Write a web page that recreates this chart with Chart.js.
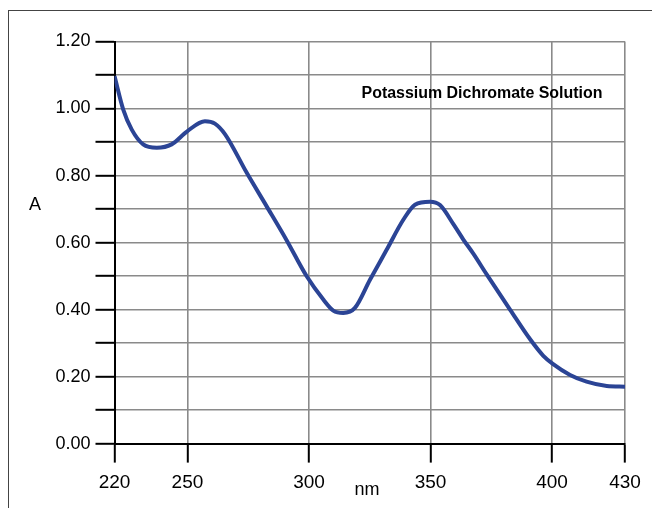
<!DOCTYPE html>
<html>
<head>
<meta charset="utf-8">
<script src="https://cdn.jsdelivr.net/npm/chart.js"></script>
<style>
  html, body { margin: 0; padding: 0; background: #fff; overflow: hidden; }
  #frame { position: absolute; left: 8px; top: 10px; width: 700px; height: 600px; border: 1px solid #444; }
  #wrap { position: absolute; left: 0; top: 0; width: 652px; height: 508px; }
</style>
</head>
<body>
<div id="frame"></div>
<div id="wrap"><canvas id="chart"></canvas></div>
<script>
// absorbance spectrum
const wavelength = [220, 223.6, 227.1, 231.8, 237.4, 243.5, 249.9, 257.2, 261.3, 265.5,
  274.4, 282.6, 290.8, 299, 305.9, 310, 314.1, 318.9, 325.1, 332,
  338.8, 343.6, 349.8, 353.9, 359.4, 363.5, 367.6, 373.1, 382.7, 390.9,
  396.4, 400.3, 407.4, 414.2, 422.5, 430];
const absorbance = [1.097, 0.997, 0.937, 0.893, 0.883, 0.893, 0.932, 0.962, 0.955, 0.923,
  0.808, 0.708, 0.607, 0.50, 0.43, 0.397, 0.39, 0.405, 0.489, 0.579,
  0.668, 0.713, 0.722, 0.712, 0.655, 0.609, 0.567, 0.505, 0.40, 0.312,
  0.262, 0.238, 0.205, 0.185, 0.172, 0.17];
const xTicks = [220, 250, 300, 350, 400, 430];
const yTicks = [0, 0.1, 0.2, 0.3, 0.4, 0.5, 0.6, 0.7, 0.8, 0.9, 1.0, 1.1, 1.2];
const chartTitle = 'Potassium Dichromate Solution';
const xTitle = 'nm';
const yTitle = 'A';

const labelsPlugin = {
  id: 'labels',
  afterDraw(chart) {
    const ctx = chart.ctx;
    ctx.save();
    ctx.fillStyle = '#000';
    ctx.textBaseline = 'middle';
    ctx.textAlign = 'center';
    ctx.font = 'bold 16px "Liberation Sans", Arial, sans-serif';
    ctx.fillText(chartTitle, 482, 94, 241);
    ctx.font = '18px "Liberation Sans", Arial, sans-serif';
    ctx.fillText(yTitle, 35, 205);
    ctx.fillText(xTitle, 367, 490);
    ctx.restore();
  }
};

new Chart(document.getElementById('chart'), {
  type: 'line',
  data: {
    datasets: [{
      data: wavelength.map((x, i) => ({ x: x, y: absorbance[i] })),
      borderColor: '#2b4495',
      borderWidth: 4,
      pointRadius: 0,
      cubicInterpolationMode: 'monotone',
      fill: false
    }]
  },
  options: {
    responsive: true,
    maintainAspectRatio: false,
    animation: false,
    layout: { padding: { left: 0, right: 27, top: 41.5, bottom: 0 } },
    plugins: { legend: { display: false }, tooltip: { enabled: false } },
    scales: {
      x: {
        type: 'linear',
        min: 220,
        max: 430,
        afterBuildTicks: s => { s.ticks = xTicks.map(v => ({ value: v })); },
        afterFit: s => { s.height = 64.4; },
        grid: {
          color: '#8a8a8a',
          lineWidth: 1.6,
          drawTicks: true,
          tickLength: 19,
          tickColor: '#000',
          tickWidth: 2
        },
        border: { color: '#000', width: 2 },
        ticks: {
          autoSkip: false,
          maxRotation: 0,
          padding: 9,
          color: '#000',
          font: { family: '"Liberation Sans", Arial, sans-serif', size: 19 }
        }
      },
      y: {
        min: 0,
        max: 1.2,
        afterBuildTicks: s => { s.ticks = yTicks.map(v => ({ value: v })); },
        afterFit: s => { s.width = 114.5; },
        grid: {
          color: '#8a8a8a',
          lineWidth: 1.6,
          drawTicks: true,
          tickLength: 19,
          tickColor: '#000',
          tickWidth: 2
        },
        border: { color: '#000', width: 2 },
        ticks: {
          autoSkip: false,
          padding: 5,
          color: '#000',
          font: { family: '"Liberation Sans", Arial, sans-serif', size: 18 },
          callback: v => (Math.round(v * 10) % 2 === 0 ? v.toFixed(2) : '')
        }
      }
    }
  },
  plugins: [labelsPlugin]
});
</script>
</body>
</html>
